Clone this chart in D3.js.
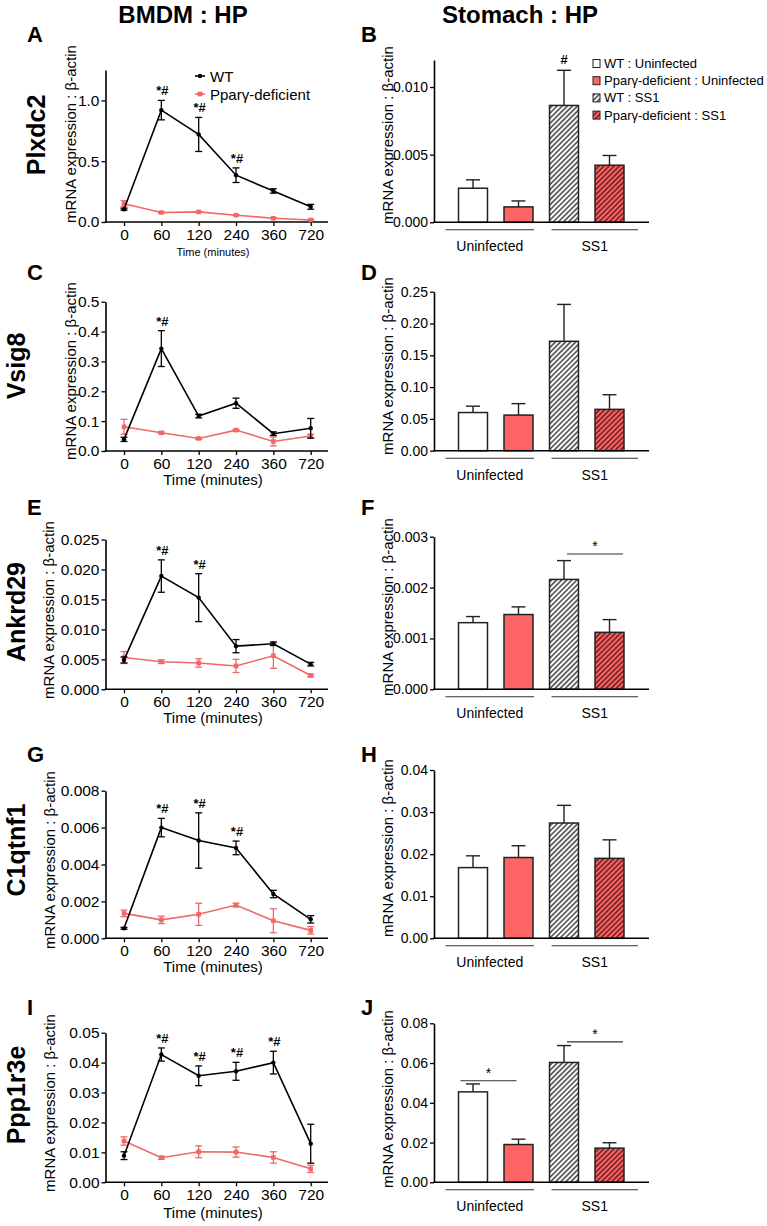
<!DOCTYPE html>
<html><head><meta charset="utf-8">
<script src="https://cdn.jsdelivr.net/npm/d3@7"></script>
<style>
body{margin:0;background:#fff;}
svg{display:block;font-family:"Liberation Sans",Arial,Helvetica,sans-serif;}
</style></head><body>
<svg id="c" width="767" height="1226"></svg>
<script>
// ---------- DATA ----------
const timeLabels = ["0", "60", "120", "240", "360", "720"];
const seriesNames = ["WT", "Pparγ-deficient"];
const barGroups = ["WT : Uninfected", "Pparγ-deficient : Uninfected", "WT : SS1", "Pparγ-deficient : SS1"];
const infectionGroups = ["Uninfected", "SS1"];
const genes = ["Plxdc2", "Vsig8", "Ankrd29", "C1qtnf1", "Ppp1r3e"];

// BMDM time course (mean, SEM)
const plxdc2WT = [0.105, 0.92, 0.72, 0.385, 0.255, 0.125];
const plxdc2WTErr = [0.008, 0.08, 0.14, 0.06, 0.018, 0.02];
const plxdc2KO = [0.15, 0.078, 0.083, 0.056, 0.031, 0.017];
const plxdc2KOErr = [0.025, 0.004, 0.004, 0.004, 0.004, 0.004];
const plxdc2Sig = ["", "*#", "*#", "*#", "", ""];

const vsig8WT = [0.039, 0.343, 0.117, 0.16, 0.058, 0.076];
const vsig8WTErr = [0.007, 0.06, 0.006, 0.017, 0.006, 0.033];
const vsig8KO = [0.081, 0.061, 0.042, 0.07, 0.032, 0.05];
const vsig8KOErr = [0.025, 0.003, 0.003, 0.003, 0.015, 0.006];
const vsig8Sig = ["", "*#", "", "", "", ""];

const ankrd29WT = [0.0049, 0.0189, 0.0153, 0.0072, 0.0076, 0.0042];
const ankrd29WTErr = [0.0005, 0.0027, 0.004, 0.0011, 0.0003, 0.0003];
const ankrd29KO = [0.0053, 0.0046, 0.0044, 0.0039, 0.0056, 0.0023];
const ankrd29KOErr = [0.001, 0.0003, 0.0007, 0.0011, 0.0021, 0.0002];
const ankrd29Sig = ["", "*#", "*#", "", "", ""];

const c1qtnf1WT = [0.00054, 0.006, 0.0053, 0.0049, 0.0024, 0.00103];
const c1qtnf1WTErr = [0.00005, 0.0005, 0.0015, 0.00037, 0.0002, 0.0002];
const c1qtnf1KO = [0.00135, 0.001, 0.0013, 0.0018, 0.00095, 0.00043];
const c1qtnf1KOErr = [0.00018, 0.0002, 0.0006, 0.0001, 0.00065, 0.0002];
const c1qtnf1Sig = ["", "*#", "*#", "*#", "", ""];

const ppp1r3eWT = [0.0089, 0.0427, 0.0356, 0.0371, 0.04, 0.0129];
const ppp1r3eWTErr = [0.0013, 0.0022, 0.0033, 0.003, 0.0038, 0.0065];
const ppp1r3eKO = [0.0138, 0.0082, 0.0102, 0.0101, 0.0083, 0.0045];
const ppp1r3eKOErr = [0.0014, 0.0005, 0.002, 0.0017, 0.0019, 0.0012];
const ppp1r3eSig = ["", "*#", "*#", "*#", "*#", ""];

// Stomach (mean, SEM) in barGroups order
const plxdc2Stom = [0.00252, 0.00114, 0.00864, 0.00422];
const plxdc2StomErr = [0.00062, 0.00044, 0.0026, 0.00072];
const plxdc2StomSig = ["", "", "#", ""];
const vsig8Stom = [0.06, 0.056, 0.172, 0.065];
const vsig8StomErr = [0.01, 0.018, 0.058, 0.023];
const ankrd29Stom = [0.00131, 0.00147, 0.00216, 0.00112];
const ankrd29StomErr = [0.00012, 0.00015, 0.00037, 0.00025];
const c1qtnf1Stom = [0.0168, 0.0192, 0.0274, 0.019];
const c1qtnf1StomErr = [0.0028, 0.0028, 0.0042, 0.0044];
const ppp1r3eStom = [0.0455, 0.019, 0.0603, 0.0172];
const ppp1r3eStomErr = [0.004, 0.0027, 0.0085, 0.0027];
// significance brackets: [from group index, to group index, height value]
const ankrd29Brackets = [[2, 3, 0.00266]];
const ppp1r3eBrackets = [[0, 1, 0.0511], [2, 3, 0.0707]];

// ---------- DRAWING ----------
const RED_LINE = "#f06868";
const RED_FILL = "#ff6565";
const svg = d3.select("#c");
const defs = svg.append("defs");
function hatch(id, bg, fg) {
  const p = defs.append("pattern").attr("id", id).attr("patternUnits", "userSpaceOnUse")
    .attr("width", 3.6).attr("height", 3.6).attr("patternTransform", "rotate(45)");
  p.append("rect").attr("width", 3.6).attr("height", 3.6).attr("fill", bg);
  p.append("line").attr("x1", 0.9).attr("y1", -1).attr("x2", 0.9).attr("y2", 5)
    .attr("stroke", fg).attr("stroke-width", 1.3);
}
hatch("hW", "#ffffff", "#222222");
hatch("hR", RED_FILL, "#4a1212");
const barFills = ["#ffffff", RED_FILL, "url(#hW)", "url(#hR)"];

svg.append("text").attr("x", 183).attr("y", 23).attr("text-anchor", "middle")
  .attr("font-weight", "bold").attr("font-size", 24).text("BMDM : HP");
svg.append("text").attr("x", 520).attr("y", 23).attr("text-anchor", "middle")
  .attr("font-weight", "bold").attr("font-size", 24).text("Stomach : HP");

function styleAxis(g, fs) {
  g.select(".domain").attr("stroke", "#000").attr("stroke-width", 1.6);
  g.selectAll(".tick line").attr("stroke", "#000").attr("stroke-width", 1.3);
  g.selectAll(".tick text").attr("fill", "#000").attr("font-size", fs)
    .attr("font-family", "Liberation Sans, Arial, sans-serif");
}

const linePanels = [
  {letter: "A", gene: genes[0], wt: plxdc2WT, wtE: plxdc2WTErr, ko: plxdc2KO, koE: plxdc2KOErr, sig: plxdc2Sig,
   yMax: 1.25, ticks: [0, 0.5, 1.0], fmt: ".1f", y0: 222, yTop: 70, labelX: 70, labelY: 134, geneX: 36, geneY: 135, letterY: 42, timeFs: 11, timeY: 256, legend: true},
  {letter: "C", gene: genes[1], wt: vsig8WT, wtE: vsig8WTErr, ko: vsig8KO, koE: vsig8KOErr, sig: vsig8Sig,
   yMax: 0.5, ticks: d3.range(0, 0.51, 0.1), fmt: ".1f", y0: 451, yTop: 301.7, labelX: 70, labelY: 371, geneX: 16, geneY: 366, letterY: 280, timeFs: 15, timeY: 485},
  {letter: "E", gene: genes[2], wt: ankrd29WT, wtE: ankrd29WTErr, ko: ankrd29KO, koE: ankrd29KOErr, sig: ankrd29Sig,
   yMax: 0.025, ticks: d3.range(0, 0.0251, 0.005), fmt: ".3f", y0: 689.3, yTop: 539.5, labelX: 48, labelY: 610, geneX: 16, geneY: 612, letterY: 515, timeFs: 15, timeY: 723},
  {letter: "G", gene: genes[3], wt: c1qtnf1WT, wtE: c1qtnf1WTErr, ko: c1qtnf1KO, koE: c1qtnf1KOErr, sig: c1qtnf1Sig,
   yMax: 0.008, ticks: d3.range(0, 0.00801, 0.002), fmt: ".3f", y0: 938.3, yTop: 790.7, labelX: 49, labelY: 860, geneX: 16, geneY: 850, letterY: 762, timeFs: 15, timeY: 972},
  {letter: "I", gene: genes[4], wt: ppp1r3eWT, wtE: ppp1r3eWTErr, ko: ppp1r3eKO, koE: ppp1r3eKOErr, sig: ppp1r3eSig,
   yMax: 0.05, ticks: d3.range(0, 0.0501, 0.01), fmt: ".2f", y0: 1182.3, yTop: 1032.7, labelX: 49, labelY: 1103, geneX: 16, geneY: 1095, letterY: 1015, timeFs: 15, timeY: 1218}
];

function drawLinePanel(p) {
  const g = svg.append("g");
  const x = d3.scalePoint().domain(timeLabels).range([124, 310.7]);
  const y = d3.scaleLinear().domain([0, p.yMax]).range([p.y0, p.yTop]);
  const ya = g.append("g").attr("transform", "translate(105.5,0)")
    .call(d3.axisLeft(y).tickValues(p.ticks).tickFormat(d3.format(p.fmt)).tickSize(4).tickSizeOuter(0).tickPadding(2));
  styleAxis(ya, 15.5);
  const xa = g.append("g").attr("transform", `translate(0,${p.y0})`)
    .call(d3.axisBottom(x).tickSize(4).tickSizeOuter(0).tickPadding(3));
  xa.select(".domain").remove();
  styleAxis(xa, 15.5);
  g.append("line").attr("x1", 104.7).attr("x2", 328).attr("y1", p.y0).attr("y2", p.y0)
    .attr("stroke", "#000").attr("stroke-width", 1.6);
  g.append("text").attr("x", 213).attr("y", p.timeY).attr("text-anchor", "middle")
    .attr("font-size", p.timeFs).text("Time (minutes)");
  g.append("text").attr("transform", `translate(${p.labelX},${p.labelY}) rotate(-90)`).attr("text-anchor", "middle")
    .attr("dominant-baseline", "central").attr("font-size", 15).text("mRNA expression : β-actin");
  g.append("text").attr("transform", `translate(${p.geneX},${p.geneY}) rotate(-90)`).attr("text-anchor", "middle")
    .attr("dominant-baseline", "central").attr("font-size", 25).attr("font-weight", "bold").text(p.gene);
  g.append("text").attr("x", 27).attr("y", p.letterY).attr("font-size", 22).attr("font-weight", "bold").text(p.letter);

  const series = [
    {vals: p.ko, err: p.koE, color: RED_LINE, marker: "square"},
    {vals: p.wt, err: p.wtE, color: "#000", marker: "circle"}
  ];
  const line = d3.line().x((d, i) => x(timeLabels[i])).y(d => y(d));
  series.forEach(s => {
    const sg = g.append("g");
    sg.append("path").datum(s.vals).attr("d", line).attr("fill", "none").attr("stroke", s.color).attr("stroke-width", 1.6);
    s.vals.forEach((v, i) => {
      const cx = x(timeLabels[i]);
      const e = s.err[i];
      sg.append("line").attr("x1", cx).attr("x2", cx).attr("y1", y(v - e)).attr("y2", y(v + e))
        .attr("stroke", s.color).attr("stroke-width", 1.3);
      [v - e, v + e].forEach(c => sg.append("line").attr("x1", cx - 3.5).attr("x2", cx + 3.5)
        .attr("y1", y(c)).attr("y2", y(c)).attr("stroke", s.color).attr("stroke-width", 1.3));
      if (s.marker === "square") sg.append("rect").attr("x", cx - 2.3).attr("y", y(v) - 2.3).attr("width", 4.6).attr("height", 4.6).attr("fill", s.color);
      else sg.append("circle").attr("cx", cx).attr("cy", y(v)).attr("r", 2.2).attr("fill", s.color);
    });
  });
  p.sig.forEach((t, i) => {
    if (!t) return;
    g.append("text").attr("x", x(timeLabels[i]) + 1).attr("y", y(p.wt[i] + p.wtE[i]) - 5)
      .attr("text-anchor", "middle").attr("font-size", 13).attr("font-weight", "bold").text(t);
  });
  if (p.legend) {
    const items = [{c: "#000", m: "circle", y: 76, t: seriesNames[0]}, {c: RED_LINE, m: "square", y: 94, t: seriesNames[1]}];
    items.forEach(it => {
      g.append("line").attr("x1", 195).attr("x2", 205).attr("y1", it.y).attr("y2", it.y).attr("stroke", it.c).attr("stroke-width", 1.6);
      if (it.m === "circle") g.append("circle").attr("cx", 200).attr("cy", it.y).attr("r", 2.2).attr("fill", it.c);
      else g.append("rect").attr("x", 197.7).attr("y", it.y - 2.3).attr("width", 4.6).attr("height", 4.6).attr("fill", it.c);
      g.append("text").attr("x", 210).attr("y", it.y).attr("dominant-baseline", "central").attr("font-size", 15).text(it.t);
    });
  }
}

const barPanels = [
  {letter: "B", vals: plxdc2Stom, err: plxdc2StomErr, sig: plxdc2StomSig, brackets: [],
   yMax: 0.012, ticks: [0, 0.005, 0.01], fmt: ".3f", y0: 222.3, yTop: 60, labelY: 135, letterY: 42, legend: true},
  {letter: "D", vals: vsig8Stom, err: vsig8StomErr, sig: null, brackets: [],
   yMax: 0.25, ticks: d3.range(0, 0.251, 0.05), fmt: ".2f", y0: 450.7, yTop: 291.7, labelY: 366, letterY: 280},
  {letter: "F", vals: ankrd29Stom, err: ankrd29StomErr, sig: null, brackets: ankrd29Brackets,
   yMax: 0.003, ticks: d3.range(0, 0.00301, 0.001), fmt: ".3f", y0: 689.3, yTop: 536.7, labelY: 607, letterY: 515},
  {letter: "H", vals: c1qtnf1Stom, err: c1qtnf1StomErr, sig: null, brackets: [],
   yMax: 0.04, ticks: d3.range(0, 0.0401, 0.01), fmt: ".2f", y0: 938.3, yTop: 770, labelY: 848, letterY: 762},
  {letter: "J", vals: ppp1r3eStom, err: ppp1r3eStomErr, sig: null, brackets: ppp1r3eBrackets,
   yMax: 0.08, ticks: d3.range(0, 0.0801, 0.02), fmt: ".2f", y0: 1182.3, yTop: 1023.3, labelY: 1099, letterY: 1015}
];

function drawBarPanel(p) {
  const g = svg.append("g");
  const x = d3.scaleBand().domain(barGroups).range([450.25, 632.25]).paddingInner(0.363).paddingOuter(0.1815);
  const bw = x.bandwidth();
  const y = d3.scaleLinear().domain([0, p.yMax]).range([p.y0, p.yTop]);
  const ya = g.append("g").attr("transform", "translate(434,0)")
    .call(d3.axisLeft(y).tickValues(p.ticks).tickFormat(d3.format(p.fmt)).tickSize(4).tickSizeOuter(0).tickPadding(2));
  styleAxis(ya, 14);
  g.append("text").attr("transform", `translate(387,${p.labelY}) rotate(-90)`).attr("text-anchor", "middle")
    .attr("dominant-baseline", "central").attr("font-size", 15).text("mRNA expression : β-actin");
  g.append("text").attr("x", 361).attr("y", p.letterY).attr("font-size", 22).attr("font-weight", "bold").text(p.letter);

  barGroups.forEach((k, i) => {
    const v = p.vals[i], e = p.err[i], cx = x(k) + bw / 2;
    g.append("line").attr("x1", cx).attr("x2", cx).attr("y1", y(v)).attr("y2", y(v + e)).attr("stroke", "#222").attr("stroke-width", 1.4);
    g.append("line").attr("x1", cx - 7).attr("x2", cx + 7).attr("y1", y(v + e)).attr("y2", y(v + e)).attr("stroke", "#222").attr("stroke-width", 1.4);
    g.append("rect").attr("x", x(k)).attr("y", y(v)).attr("width", bw).attr("height", p.y0 - y(v))
      .attr("fill", barFills[i]).attr("stroke", "#222").attr("stroke-width", 1.5);
    if (p.sig && p.sig[i]) g.append("text").attr("x", cx).attr("y", y(v + e) - 6).attr("text-anchor", "middle")
      .attr("font-size", 13).attr("font-weight", "bold").text(p.sig[i]);
  });
  g.append("line").attr("x1", 433.2).attr("x2", 649).attr("y1", p.y0).attr("y2", p.y0).attr("stroke", "#000").attr("stroke-width", 1.6);

  // infection group underlines
  const grp = [
    {t: infectionGroups[0], a: x(barGroups[0]) - 13, b: x(barGroups[1]) + bw + 1},
    {t: infectionGroups[1], a: x(barGroups[2]) + 2, b: x(barGroups[3]) + bw + 14}
  ];
  grp.forEach(q => {
    g.append("line").attr("x1", q.a).attr("x2", q.b).attr("y1", p.y0 + 7.5).attr("y2", p.y0 + 7.5).attr("stroke", "#333").attr("stroke-width", 1.1);
    g.append("text").attr("x", (q.a + q.b) / 2).attr("y", p.y0 + 29).attr("text-anchor", "middle").attr("font-size", 14).text(q.t);
  });

  p.brackets.forEach(br => {
    const a = br[0] === 0 ? x(barGroups[br[0]]) + 2 : x(barGroups[br[0]]) + bw / 2 + 3;
    const b = br[0] === 0 ? x(barGroups[br[1]]) + bw / 2 - 2 : x(barGroups[br[1]]) + bw - 1;
    g.append("line").attr("x1", a).attr("x2", b).attr("y1", y(br[2])).attr("y2", y(br[2])).attr("stroke", "#333").attr("stroke-width", 1.2);
    g.append("text").attr("x", (a + b) / 2).attr("y", y(br[2]) - 3).attr("text-anchor", "middle").attr("font-size", 14).text("*");
  });

  if (p.legend) {
    barGroups.forEach((k, i) => {
      const ly = 63.5 + i * 17.2;
      g.append("rect").attr("x", 593).attr("y", ly - 4).attr("width", 7).attr("height", 8)
        .attr("fill", barFills[i]).attr("stroke", "#222").attr("stroke-width", 1);
      g.append("text").attr("x", 604).attr("y", ly).attr("dominant-baseline", "central").attr("font-size", 13).text(k);
    });
  }
}

linePanels.forEach(drawLinePanel);
barPanels.forEach(drawBarPanel);
</script>
</body></html>
